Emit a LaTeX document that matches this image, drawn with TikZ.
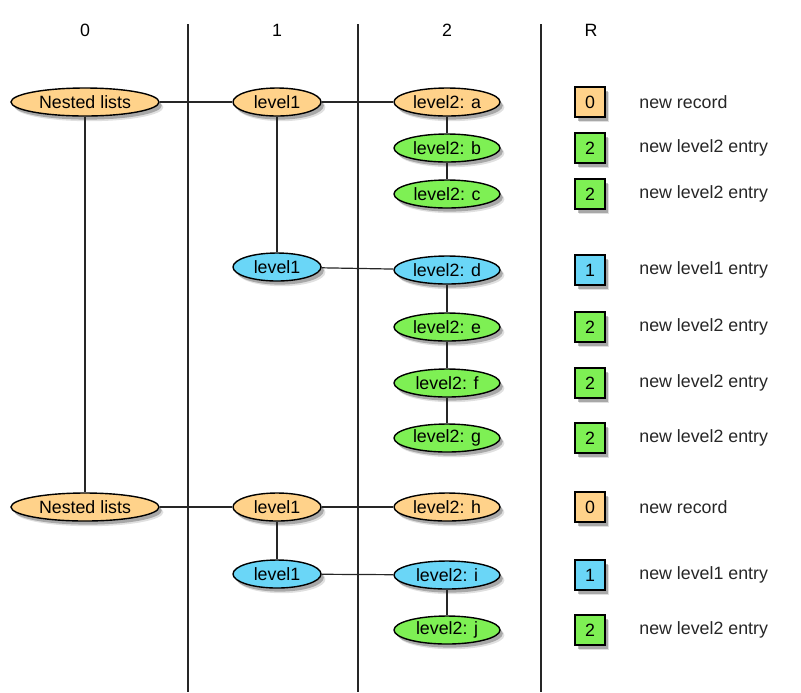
\documentclass[tikz,border=0pt]{standalone}
\usepackage{fontspec}
\setmainfont{Liberation Sans}
\usetikzlibrary{shapes.geometric,shadows}
\definecolor{recorange}{RGB}{255,210,138}
\definecolor{recgreen}{RGB}{126,240,84}
\definecolor{recblue}{RGB}{106,214,247}
\begin{document}
\begin{tikzpicture}[x=0.5pt,y=-0.5pt,
  every node/.style={font=\fontsize{8.9}{10}\selectfont},
  shade/.style={
    drop shadow={shadow xshift=2.2pt,shadow yshift=-2.6pt,opacity=0.12,fill=black},
    drop shadow={shadow xshift=1.4pt,shadow yshift=-1.8pt,opacity=0.25,fill=black}},
  oval/.style={ellipse,draw=black,line width=0.7pt,inner sep=0pt,minimum height=14pt,shade},
  rootoval/.style={oval,minimum width=74pt},
  lvlone/.style={oval,minimum width=44pt},
  lvltwo/.style={oval,minimum width=53pt},
  tag/.style={rectangle,draw=black,line width=0.6pt,minimum size=15pt,inner sep=0pt,shade},
  note/.style={anchor=west,inner sep=0pt,text=black!85},
  head/.style={},
  rule/.style={line width=0.6pt,black!85},
  link/.style={line width=0.6pt,black!85}]
\useasboundingbox (0,0) rectangle (801,692);

% column headers and separators
\node[head] (h0) at (85,30) {0};
\node[head] (h1) at (277,30) {1};
\node[head] (h2) at (447,30) {2};
\node[head] (hR) at (591,30) {R};
\coordinate (s1t) at (188,24); \coordinate (s1b) at (188,692);
\coordinate (s2t) at (358,24); \coordinate (s2b) at (358,692);
\coordinate (s3t) at (541,24); \coordinate (s3b) at (541,692);
\draw[rule] (s1t) -- (s1b);
\draw[rule] (s2t) -- (s2b);
\draw[rule] (s3t) -- (s3b);

% first record
\node[rootoval,fill=recorange] (n1) at (85,102) {Nested lists};
\node[lvlone,fill=recorange] (l1a) at (277,102) {level1};
\node[lvltwo,fill=recorange] (a) at (447,102) {level2: a};
\node[lvltwo,fill=recgreen] (b) at (447,148) {level2: b};
\node[lvltwo,fill=recgreen] (c) at (447,194) {level2: c};
\node[lvlone,fill=recblue] (l1b) at (277,267) {level1};
\node[lvltwo,fill=recblue] (d) at (447,270) {level2: d};
\node[lvltwo,fill=recgreen] (e) at (447,327) {level2: e};
\node[lvltwo,fill=recgreen] (f) at (447,383) {level2: f};
\node[lvltwo,fill=recgreen] (g) at (447,438) {level2: g};

% second record
\node[rootoval,fill=recorange] (n2) at (85,507) {Nested lists};
\node[lvlone,fill=recorange] (l1c) at (277,507) {level1};
\node[lvltwo,fill=recorange] (h) at (447,507) {level2: h};
\node[lvlone,fill=recblue] (l1d) at (277,574) {level1};
\node[lvltwo,fill=recblue] (i) at (447,575) {level2: i};
\node[lvltwo,fill=recgreen] (j) at (447,630) {level2: j};

% tree links
\draw[link] (n1) -- (l1a);
\draw[link] (l1a) -- (a);
\draw[link] (a) -- (b);
\draw[link] (b) -- (c);
\draw[link] (l1a) -- (l1b);
\draw[link] (l1b) -- (d);
\draw[link] (d) -- (e);
\draw[link] (e) -- (f);
\draw[link] (f) -- (g);
\draw[link] (n1) -- (n2);
\draw[link] (n2) -- (l1c);
\draw[link] (l1c) -- (h);
\draw[link] (l1c) -- (l1d);
\draw[link] (l1d) -- (i);
\draw[link] (i) -- (j);

% repetition level of each row
\node[tag,fill=recorange] (r1) at (590,102) {0};
\node[note] (t1) at (639,102) {new record};
\node[tag,fill=recgreen] (r2) at (590,148) {2};
\node[note] (t2) at (639,148) {new level2 entry};
\node[tag,fill=recgreen] (r3) at (590,194) {2};
\node[note] (t3) at (639,194) {new level2 entry};
\node[tag,fill=recblue] (r4) at (590,270) {1};
\node[note] (t4) at (639,270) {new level1 entry};
\node[tag,fill=recgreen] (r5) at (590,327) {2};
\node[note] (t5) at (639,327) {new level2 entry};
\node[tag,fill=recgreen] (r6) at (590,383) {2};
\node[note] (t6) at (639,383) {new level2 entry};
\node[tag,fill=recgreen] (r7) at (590,438) {2};
\node[note] (t7) at (639,438) {new level2 entry};
\node[tag,fill=recorange] (r8) at (590,507) {0};
\node[note] (t8) at (639,507) {new record};
\node[tag,fill=recblue] (r9) at (590,575) {1};
\node[note] (t9) at (639,575) {new level1 entry};
\node[tag,fill=recgreen] (r10) at (590,630) {2};
\node[note] (t10) at (639,630) {new level2 entry};
\end{tikzpicture}
\end{document}
